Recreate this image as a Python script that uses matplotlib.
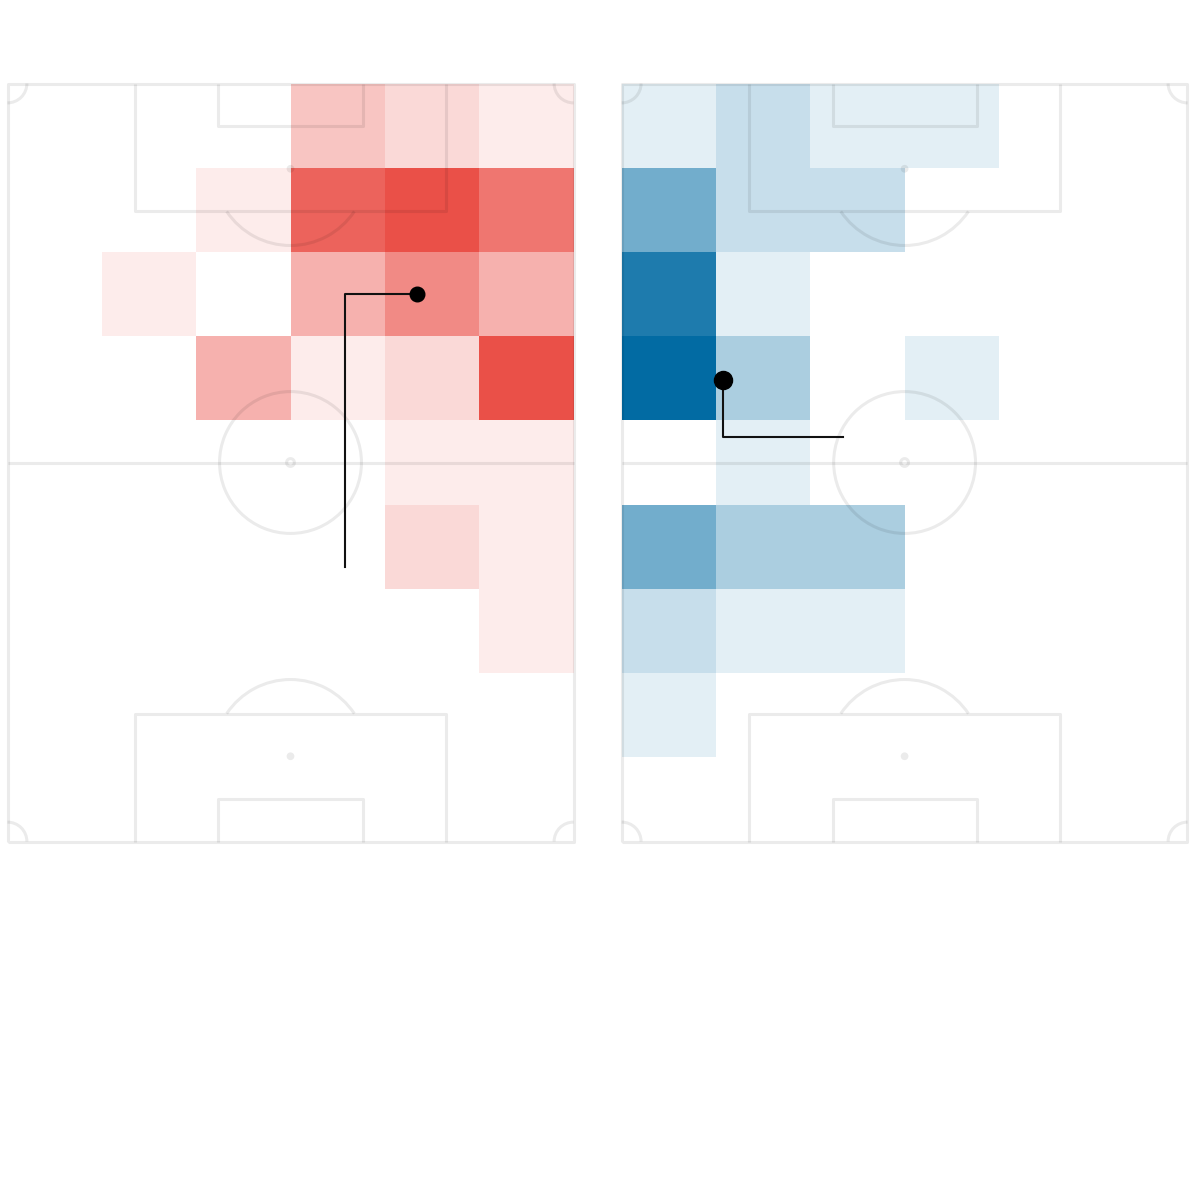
import numpy as np
import matplotlib
matplotlib.use('Agg')
import matplotlib.pyplot as plt
from matplotlib.patches import Arc, Circle
from matplotlib.colors import LinearSegmentedColormap

# pitch size (metres), vertical pitch: x = width, y = length
PITCH_W = 73.0
PITCH_L = 97.8

# binned counts, 6 bins across the width, 9 along the length
# rows listed from the top of the pitch down
home_counts = [
    [0, 0, 0, 3, 2, 1],
    [0, 0, 1, 8, 9, 7],
    [0, 1, 0, 4, 6, 4],
    [0, 0, 4, 1, 2, 9],
    [0, 0, 0, 0, 1, 1],
    [0, 0, 0, 0, 2, 1],
    [0, 0, 0, 0, 0, 1],
    [0, 0, 0, 0, 0, 0],
    [0, 0, 0, 0, 0, 0],
]
away_counts = [
    [1, 2, 1, 1, 0, 0],
    [5, 2, 2, 0, 0, 0],
    [8, 1, 0, 0, 0, 0],
    [9, 3, 0, 1, 0, 0],
    [0, 1, 0, 0, 0, 0],
    [5, 3, 3, 0, 0, 0],
    [2, 1, 1, 0, 0, 0],
    [1, 0, 0, 0, 0, 0],
    [0, 0, 0, 0, 0, 0],
]

# callout lines: dot first, then the elbow, then the end
home_callout_x = [52.8, 43.5, 43.5]
home_callout_y = [70.6, 70.6, 35.4]
away_callout_x = [13.1, 13.1, 28.5]
away_callout_y = [59.5, 52.2, 52.2]

home_cmap = LinearSegmentedColormap.from_list('home', ['#ffffff', '#ea5048'])
away_cmap = LinearSegmentedColormap.from_list('away', ['#ffffff', '#026ba3'])

LINE_KW = dict(color='black', alpha=0.08, lw=2.2, zorder=3, clip_on=False,
               solid_capstyle='butt')


def draw_pitch(ax):
    W, L = PITCH_W, PITCH_L
    cx = W / 2
    # outline + halfway line
    ax.plot([0, W, W, 0, 0], [0, 0, L, L, 0], **LINE_KW)
    ax.plot([0, W], [L / 2, L / 2], **LINE_KW)
    for goal_y, sgn in [(0, 1), (L, -1)]:
        # penalty box
        hw = 20.1
        d = 16.5
        ax.plot([cx - hw, cx - hw, cx + hw, cx + hw],
                [goal_y, goal_y + sgn * d, goal_y + sgn * d, goal_y], **LINE_KW)
        # six yard box
        hw6 = 9.3
        d6 = 5.5
        ax.plot([cx - hw6, cx - hw6, cx + hw6, cx + hw6],
                [goal_y, goal_y + sgn * d6, goal_y + sgn * d6, goal_y], **LINE_KW)
        # penalty spot and arc
        spot_y = goal_y + sgn * 11.0
        ax.add_patch(Circle((cx, spot_y), 0.5, color='black', alpha=0.08,
                            lw=0, zorder=3))
        r = 9.9
        ang = np.degrees(np.arcsin((d - 11.0) / r))
        if sgn == 1:
            t1, t2 = ang, 180 - ang
        else:
            t1, t2 = 180 + ang, 360 - ang
        ax.add_patch(Arc((cx, spot_y), 2 * r, 2 * r, theta1=t1, theta2=t2,
                         color='black', alpha=0.08, lw=2.2, zorder=3))
    # centre circle and spot
    ax.add_patch(Arc((cx, L / 2), 2 * 9.15, 2 * 9.15, color='black',
                     alpha=0.08, lw=2.2, zorder=3))
    ax.add_patch(Arc((cx, L / 2), 1.0, 1.0, color='black', alpha=0.08,
                     lw=2.2, zorder=3))
    # corner arcs
    cr = 2.5
    for (x0, y0, t1, t2) in [(0, 0, 0, 90), (W, 0, 90, 180),
                             (W, L, 180, 270), (0, L, 270, 360)]:
        ax.add_patch(Arc((x0, y0), 2 * cr, 2 * cr, theta1=t1, theta2=t2,
                         color='black', alpha=0.08, lw=2.2, zorder=3,
                         clip_on=False))


def draw_heatmap(ax, counts, cmap):
    grid = np.flipud(np.array(counts, dtype=float))
    xedges = np.linspace(0, PITCH_W, grid.shape[1] + 1)
    yedges = np.linspace(0, PITCH_L, grid.shape[0] + 1)
    masked = np.ma.masked_equal(grid, 0)
    ax.pcolormesh(xedges, yedges, masked, cmap=cmap, vmin=0, vmax=9,
                  zorder=1, edgecolors='none')


fig = plt.figure(figsize=(12, 11.78), dpi=100)
ax1 = fig.add_axes([0.00625, 0.28565, 0.47167, 0.64346])
ax2 = fig.add_axes([0.51808, 0.28565, 0.4715, 0.64346])

for ax, counts, cmap in [(ax1, home_counts, home_cmap), (ax2, away_counts, away_cmap)]:
    draw_heatmap(ax, counts, cmap)
    draw_pitch(ax)
    ax.set_xlim(0, PITCH_W)
    ax.set_ylim(0, PITCH_L)
    ax.axis('off')

ax1.plot(home_callout_x, home_callout_y, color='#111111', lw=1.5, zorder=5)
ax1.plot(home_callout_x[0], home_callout_y[0], 'o', color='black', ms=10.5, zorder=6)
ax2.plot(away_callout_x, away_callout_y, color='#111111', lw=1.5, zorder=5)
ax2.plot(away_callout_x[0], away_callout_y[0], 'o', color='black', ms=13, zorder=6)

fig.savefig('out.png', dpi=100, facecolor='white')
